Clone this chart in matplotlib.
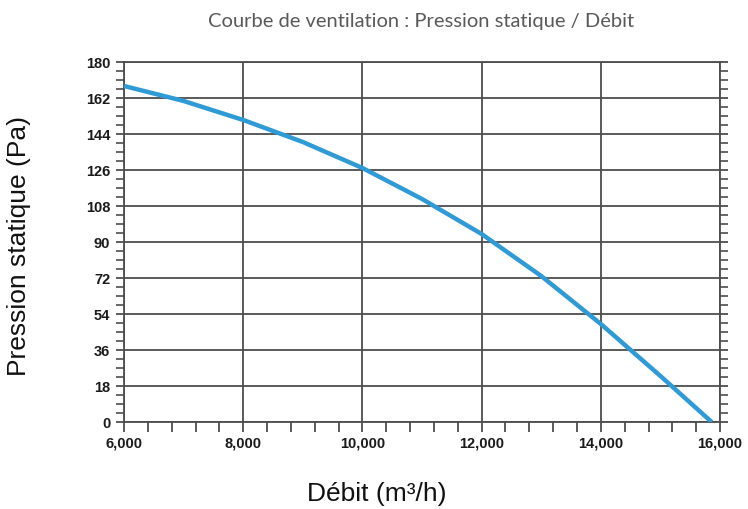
import matplotlib.pyplot as plt
from matplotlib.ticker import MultipleLocator, FuncFormatter

# values
debit = [6000, 7000, 8000, 9000, 10000, 11000, 12000, 13000, 14000, 15000, 15860]
pression = [168, 160.5, 151, 140, 127, 111.5, 94, 73, 49, 23, 0]

x_ticks = [6000, 8000, 10000, 12000, 14000, 16000]
y_ticks = [0, 18, 36, 54, 72, 90, 108, 126, 144, 162, 180]

GRID = "#4d4d4d"
CURVE = "#2e9ad6"

fig = plt.figure(figsize=(7.48, 5.10), dpi=100)
ax = fig.add_axes([0.1658, 0.1706, 0.7968, 0.7059])

ax.plot(debit, pression, color=CURVE, linewidth=3.2, solid_capstyle="butt", zorder=3)

ax.set_xlim(6000, 16000)
ax.set_ylim(0, 180)
ax.set_xticks(x_ticks)
ax.set_yticks(y_ticks)
ax.xaxis.set_minor_locator(MultipleLocator(400))
ax.yaxis.set_minor_locator(MultipleLocator(4.5))
ax.xaxis.set_major_formatter(FuncFormatter(lambda v, p: "{:,.0f}".format(v)))

ax.grid(True, which="major", color=GRID, linewidth=1.3)
for s in ax.spines.values():
    s.set_color(GRID)
    s.set_linewidth(1.3)

ax.tick_params(axis="x", which="both", direction="out", bottom=True, top=False,
               color=GRID, width=1.3, length=7, pad=3)
ax.tick_params(axis="y", which="major", direction="out", left=True, right=True,
               color=GRID, width=1.3, length=6, pad=4)
ax.tick_params(axis="y", which="minor", direction="out", left=True, right=True,
               color=GRID, width=1.2, length=6)

for lbl in ax.get_xticklabels() + ax.get_yticklabels():
    lbl.set_family("Liberation Sans")
    lbl.set_fontweight("bold")
    lbl.set_fontsize(10.5)
    lbl.set_color("#1a1a1a")

fig.text(0.563, 0.957, "Courbe de ventilation : Pression statique / Débit",
         ha="center", va="center", fontsize=14.5, color="#595959", family="Lato")
fig.text(0.504, 0.031, "Débit (m³/h)", ha="center", va="center",
         fontsize=19, family="Liberation Sans", color="#111111")
fig.text(0.026, 0.517, "Pression statique (Pa)", ha="center", va="center",
         rotation=90, fontsize=19, family="Liberation Sans", color="#111111")

fig.savefig("out.png", dpi=100)
